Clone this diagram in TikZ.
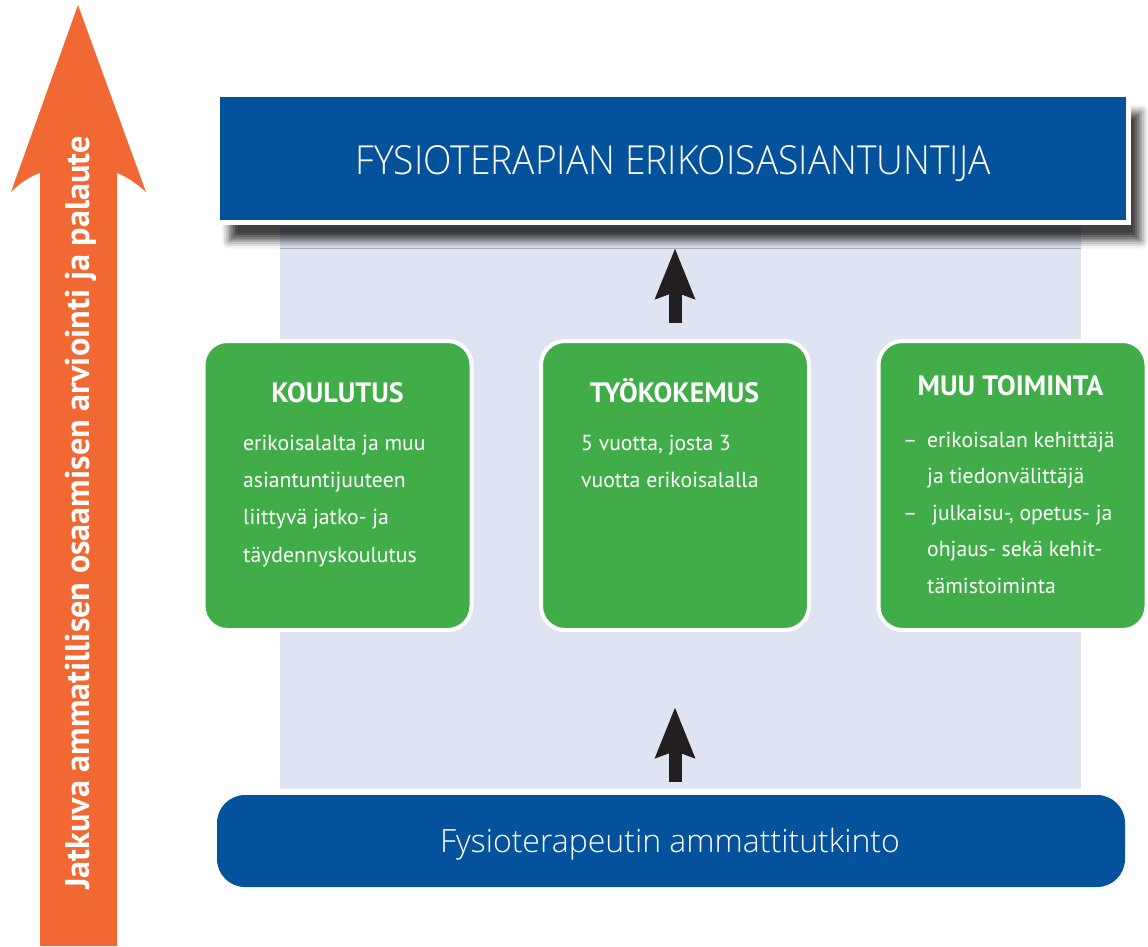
\documentclass[tikz,border=0pt]{standalone}
\usepackage{fontspec}
\setmainfont{PT Sans}
\newfontfamily\lightfont[FakeStretch=0.93]{Open Sans Light}
\newfontfamily\lightfontb{Open Sans Light}
\usetikzlibrary{shadows.blur,arrows.meta}
\definecolor{fblue}{RGB}{3,82,155}
\definecolor{fgreen}{RGB}{65,173,73}
\definecolor{lightbg}{RGB}{223,228,242}
\definecolor{forange}{RGB}{242,104,51}
\definecolor{darrow}{RGB}{35,31,32}
\tikzset{
  greenbox/.style={fill=fgreen, draw=white, line width=4pt, rounded corners=24pt,
    minimum width=268pt, minimum height=289pt, inner sep=0pt},
  headtxt/.style={text=white, font=\bfseries\fontsize{28}{32}\selectfont, anchor=base, inner sep=0pt},
  bodytxt/.style={text=white, font=\fontsize{21.7}{26}\selectfont, anchor=base west, inner sep=0pt},
  uparrow/.style={draw=darrow, line width=13pt, -{Stealth[length=50pt,width=38pt,inset=6pt]}, shorten >=0pt}
}
\begin{document}
\begin{tikzpicture}[x=1pt,y=-1pt]
\useasboundingbox (0,0) rectangle (1148,946);
% light background panel
\fill[lightbg] (280,226) rectangle (1081,789);
% orange arrow
\fill[forange] (78,5) -- (146,192) .. controls (135,182) and (125,176) .. (117,173)
  -- (117,946) -- (40,946) -- (40,173) .. controls (31,176) and (21,182) .. (11,192) -- cycle;
\node (side) [rotate=90, anchor=base west, inner sep=0pt, text=white,
  font=\bfseries\fontsize{34.2}{38}\selectfont] at (89,890)
  {Jatkuva ammatillisen osaamisen arviointi ja palaute};
% top box
\node (top) [fill=fblue, draw=white, line width=5pt, minimum width=911pt, minimum height=128pt,
  blur shadow={shadow xshift=12pt, shadow yshift=-18pt, shadow blur radius=8pt, shadow opacity=75}]
  at (673,158.5) {};
\node (toptxt) [anchor=base, inner sep=0pt, text=white, font=\lightfont\fontsize{40}{44}\selectfont]
  at (673,174) {FYSIOTERAPIAN ERIKOISASIANTUNTIJA};
% bottom box
\node (bottom) [fill=fblue, rounded corners=28pt, minimum width=908pt, minimum height=92pt]
  at (671,841) {};
\node (bottomtxt) [anchor=base, inner sep=0pt, text=white, font=\lightfontb\fontsize{32}{36}\selectfont]
  at (670,852) {Fysioterapeutin ammattitutkinto};
% green boxes
\node (b1) [greenbox] at (337.5,485.5) {};
\node (b2) [greenbox] at (675,485.5) {};
\node (b3) [greenbox] at (1012.5,485.5) {};
% headings
\node (h1) [headtxt] at (337.5,402) {KOULUTUS};
\node (h2) [headtxt] at (674.5,402) {TYÖKOKEMUS};
\node (h3) [headtxt] at (1010.5,395) {MUU TOIMINTA};
% body box 1
\node (t11) [bodytxt] at (243,450) {erikoisalalta ja muu};
\node (t12) [bodytxt] at (243,487) {asiantuntijuuteen};
\node (t13) [bodytxt] at (243,524) {liittyvä jatko- ja};
\node (t14) [bodytxt] at (243,562) {täydennyskoulutus};
% body box 2
\node (t21) [bodytxt] at (581,450) {5 vuotta, josta 3};
\node (t22) [bodytxt] at (581,487) {vuotta erikoisalalla};
% body box 3
\node (d31) [bodytxt] at (903,447) {–};
\node (t31) [bodytxt] at (927,447) {erikoisalan kehittäjä};
\node (t32) [bodytxt] at (927,483) {ja tiedonvälittäjä};
\node (d33) [bodytxt] at (903,520) {–};
\node (t33) [bodytxt] at (932,520) {julkaisu-, opetus- ja};
\node (t34) [bodytxt] at (927,556) {ohjaus- sekä kehit-};
\node (t35) [bodytxt] at (927,593) {tämistoiminta};
% arrows
\coordinate (a1s) at (675,323);
\coordinate (a1e) at (675,248);
\coordinate (a2s) at (675,782);
\coordinate (a2e) at (675,707);
\draw[uparrow] (a1s) -- (a1e);
\draw[uparrow] (a2s) -- (a2e);
\end{tikzpicture}
\end{document}
